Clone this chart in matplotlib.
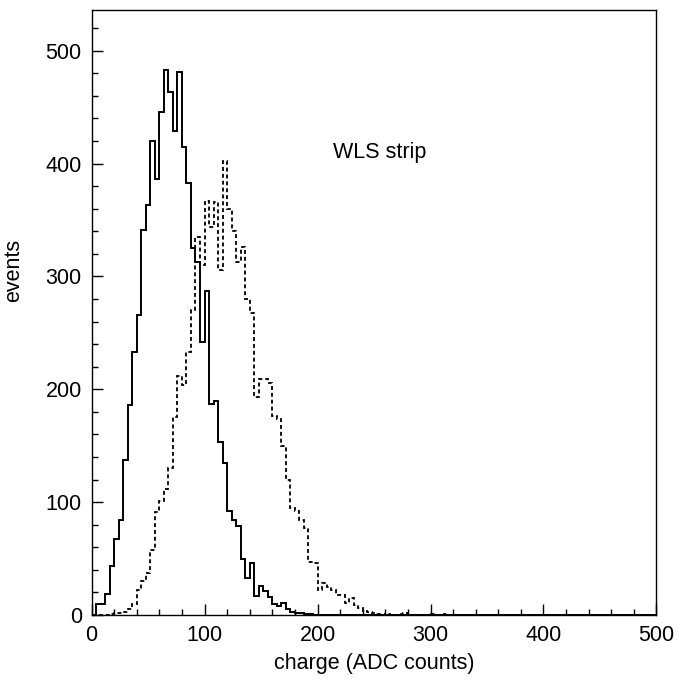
import numpy as np
import matplotlib
matplotlib.use('Agg')
import matplotlib.pyplot as plt
from matplotlib.ticker import MultipleLocator

# bin edges: 125 bins of 4 ADC counts from 0 to 500
bin_width = 4
n_bins = 125

# solid histogram (bins starting at 0)
solid_counts = [0, 10, 10, 19, 43, 67, 84, 137, 186, 233,
                266, 341, 363, 420, 386, 446, 483, 463, 429, 481,
                415, 383, 325, 313, 242, 287, 187, 190, 153, 135,
                92, 84, 79, 50, 33, 46, 17, 26, 21, 16,
                10, 8, 11, 5, 3, 2, 2, 1, 1, 0]

# dotted histogram (bins starting at 0)
dotted_counts = [0, 0, 0, 0, 1, 2, 2, 3, 5, 10,
                 22, 30, 37, 58, 91, 101, 112, 130, 175, 212,
                 204, 233, 270, 335, 310, 367, 344, 366, 306, 402,
                 360, 340, 313, 326, 280, 268, 193, 209, 209, 206,
                 176, 174, 150, 120, 95, 92, 84, 77, 47, 46,
                 22, 28, 25, 22, 18, 18, 11, 15, 9, 6,
                 4, 3, 2, 1, 0, 1, 0, 0, 1, 2,
                 0, 0, 0, 0, 0, 1, 0, 0, 1, 0]

edges = np.arange(n_bins + 1) * bin_width
solid = np.zeros(n_bins)
solid[:len(solid_counts)] = solid_counts
dotted = np.zeros(n_bins)
dotted[:len(dotted_counts)] = dotted_counts

plt.rcParams['font.family'] = ['Liberation Sans', 'DejaVu Sans']
fs = 15.5

fig = plt.figure(figsize=(6.87, 6.82), dpi=100)
ax = fig.add_axes([0.1332, 0.0982, 0.8224, 0.8871])

ax.stairs(solid, edges, color='black', linewidth=1.4)
ax.stairs(dotted, edges, color='black', linewidth=1.3, linestyle=(0, (2.2, 1.6)))

ax.set_xlim(0, 500)
ax.set_ylim(0, 536)

ax.xaxis.set_major_locator(MultipleLocator(100))
ax.xaxis.set_minor_locator(MultipleLocator(20))
ax.yaxis.set_major_locator(MultipleLocator(100))
ax.yaxis.set_minor_locator(MultipleLocator(20))
ax.tick_params(which='both', direction='in', top=False, right=False, labelsize=fs, width=1)
ax.tick_params(which='major', length=8, pad=7)
ax.tick_params(which='minor', length=4)
for s in ax.spines.values():
    s.set_linewidth(1)

ax.set_xlabel('charge (ADC counts)', fontsize=fs)
ax.xaxis.set_label_coords(0.5, -0.062)
ax.set_ylabel('events', fontsize=fs)
ax.yaxis.set_label_coords(-0.12, 0.57)
ax.text(214, 410, 'WLS strip', fontsize=fs, va='center')

fig.savefig('out.png', dpi=100)
